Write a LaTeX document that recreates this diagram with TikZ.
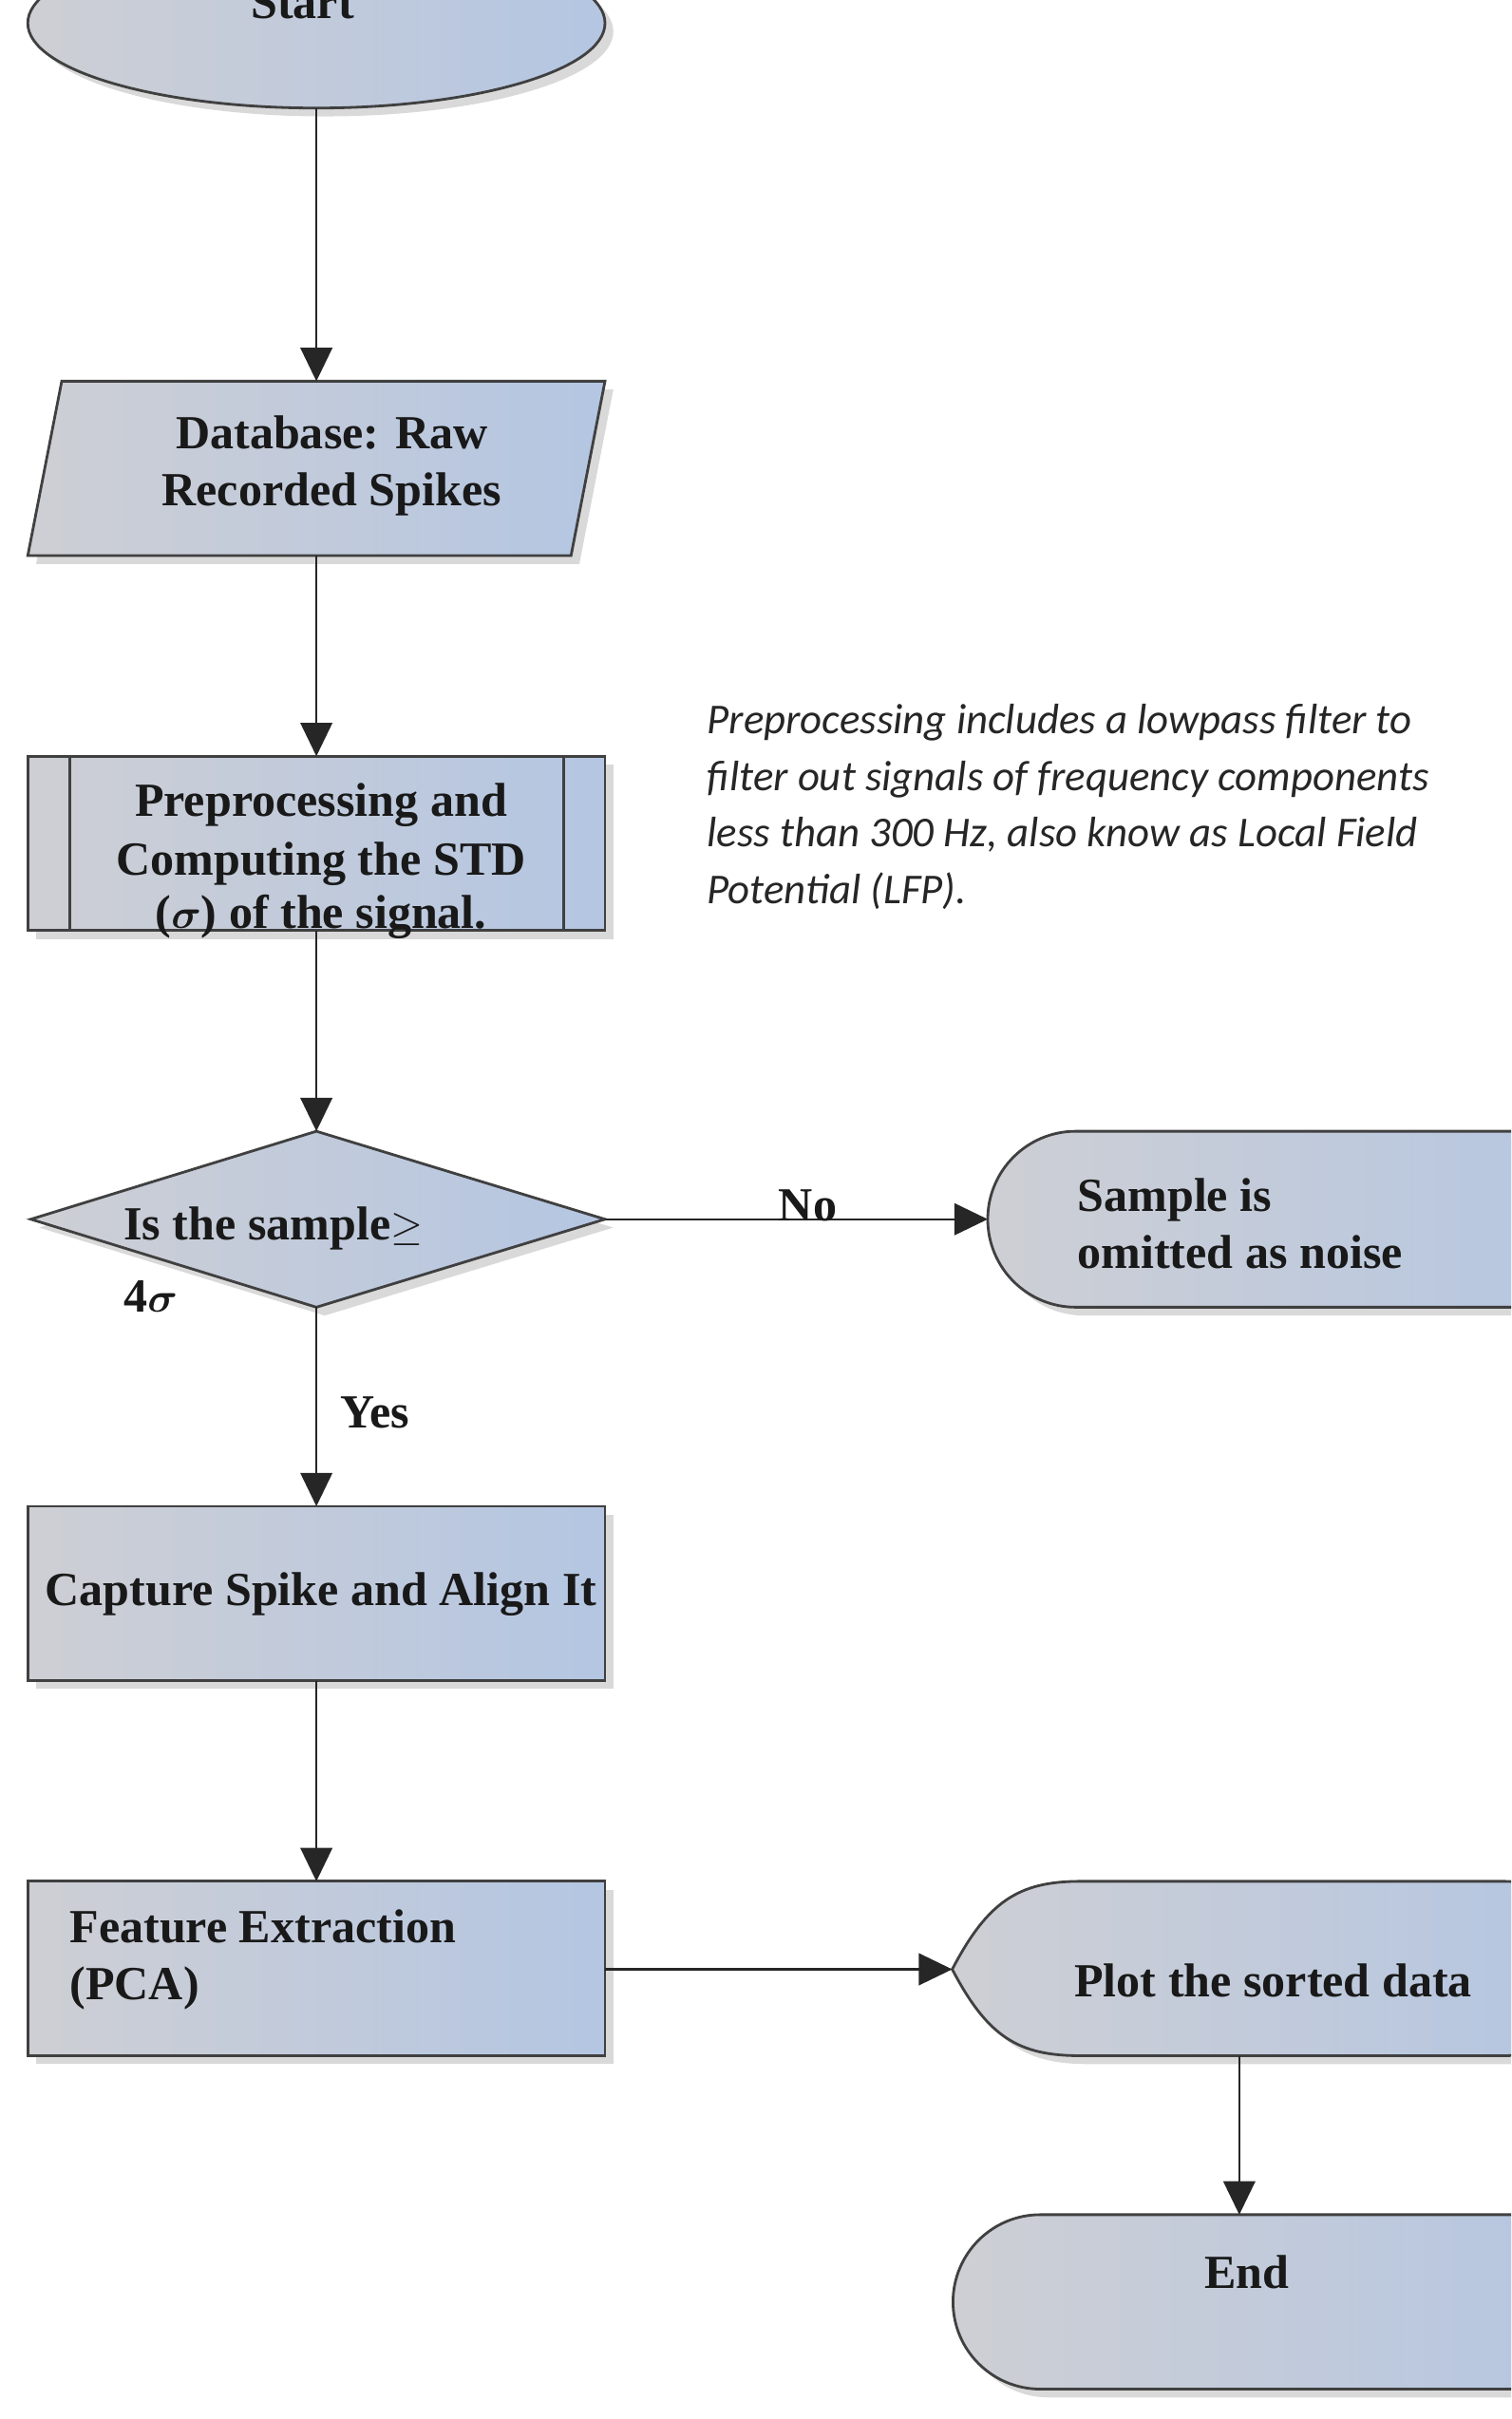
\documentclass[tikz,border=0pt]{standalone}
\usepackage{amsmath,amssymb,bm}
\usepackage{fontspec}
\setmainfont{Liberation Serif}
\newfontfamily\notefont{Carlito}
\usetikzlibrary{shadows,arrows.meta}
\definecolor{lc}{RGB}{206,207,212}
\definecolor{rc}{RGB}{180,198,226}
\begin{document}
\begin{tikzpicture}[x=0.0325cm,y=0.0325cm,
  shp/.style={draw=black!75,line width=1.6pt,left color=lc,right color=rc,
    drop shadow={opacity=0.3,shadow xshift=5pt,shadow yshift=-5pt}},
  lbl/.style={font=\fontsize{28.5}{34}\selectfont\bfseries,text=black!90,align=center,inner sep=0},
  arr/.style={line width=1.4pt,draw=black!85,-{Triangle[length=20pt,width=19pt]}}]
\useasboundingbox (0,0) rectangle (979.1,-1567.4);
\clip (0,0) rectangle (979.1,-1567.4);
% start
\path[shp] (205,-15) ellipse (187 and 55);
\node[lbl] (start) at (196,-2) {Start};
\coordinate (s1) at (205,-70);
% database
\path[shp] (40,-247) -- (392,-247) -- (370,-360) -- (18,-360) -- cycle;
\node[lbl] (db) at (215,-302) {Database: Raw\\Recorded Spikes};
\coordinate (db1) at (205,-247); \coordinate (db2) at (205,-360);
% preprocessing
\path[shp] (18,-490) rectangle (392,-603);
\draw[line width=1.6pt,black!75] (45,-490)--(45,-603) (365,-490)--(365,-603);
\node[lbl,align=center] (pre) at (208,-558) {Preprocessing and\\[1pt]Computing the STD\\[-2pt]($\bm{\sigma}$) of the signal.};
\coordinate (p1) at (205,-490); \coordinate (p2) at (205,-603);
% note
\node[font=\notefont\itshape\fontsize{25.5}{34}\selectfont,align=left,anchor=north west,inner sep=0,text=black!85] (note) at (458,-456)
 {Preprocessing includes a lowpass filter to\\filter out signals of frequency components\\less than 300 Hz, also know as Local Field\\Potential (LFP).};
% diamond
\path[shp] (20,-790) -- (205,-733) -- (392,-790) -- (205,-847) -- cycle;
\node[lbl,anchor=west] (q) at (80,-796) {Is the sample$\geq$};
\node[lbl,anchor=west] (q2) at (80,-840) {4$\bm{\sigma}$};
\coordinate (d1) at (205,-733); \coordinate (d2) at (205,-847); \coordinate (d3) at (392,-790);
% noise
\path[shp] (990,-733) -- (697,-733) arc (90:270:57) -- (990,-847) arc (-90:90:57) -- cycle;
\node[lbl,align=left,anchor=west] (noise) at (698,-793) {Sample is\\omitted as noise};
\coordinate (n1) at (640,-790);
\draw[arr] (d3) -- node[lbl,above,pos=0.53,yshift=-2pt] (no) {No} (n1);
% capture
\path[shp] (18,-976) rectangle (392,-1089);
\node[lbl] (cap) at (208,-1033) {Capture Spike and Align It};
\coordinate (c1) at (205,-976); \coordinate (c2) at (205,-1089);
\draw[arr] (d2) -- node[lbl,right,xshift=14pt,pos=0.53] (yes) {Yes} (c1);
% feature
\path[shp] (18,-1219) rectangle (392,-1332);
\node[lbl,align=left,anchor=west] (fe) at (45,-1270) {Feature Extraction\\(PCA)};
\coordinate (f1) at (205,-1219); \coordinate (f2) at (392,-1276);
% display
\path[shp] (617,-1276) .. controls (640,-1232) and (660,-1219) .. (700,-1219) -- (975,-1219) arc (90:-90:56.5) -- (700,-1332) .. controls (660,-1332) and (640,-1320) .. (617,-1276) -- cycle;
\node[lbl] (plot) at (825,-1283) {Plot the sorted data};
\coordinate (pl1) at (617,-1276); \coordinate (pl2) at (803,-1332);
% end
\path[shp] (990,-1435) -- (674,-1435) arc (90:270:56.5) -- (990,-1548) arc (-90:90:56.5) -- cycle;
\node[lbl] (end) at (808,-1472) {End};
\coordinate (e1) at (803,-1435);
% arrows
\draw[arr] (s1) -- (db1);
\draw[arr] (db2) -- (p1);
\draw[arr] (p2) -- (d1);
\draw[arr] (c2) -- (f1);
\draw[arr] (f2) -- (pl1);
\draw[arr] (pl2) -- (e1);
\end{tikzpicture}
\end{document}
